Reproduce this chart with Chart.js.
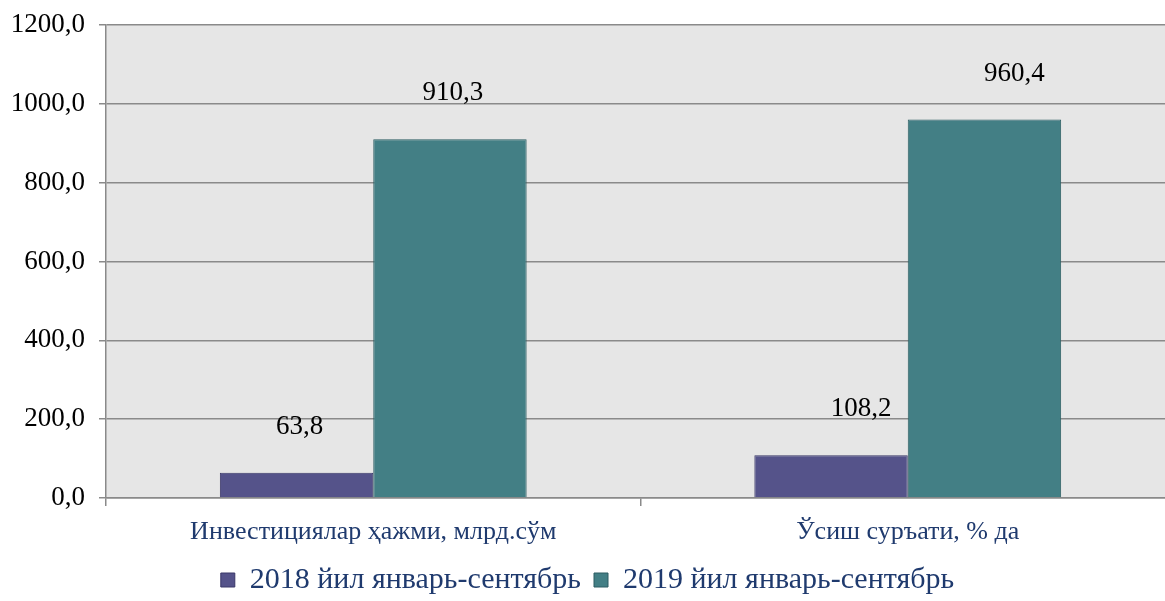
<!DOCTYPE html>
<html>
<head>
<meta charset="utf-8">
<script src="https://cdn.jsdelivr.net/npm/chart.js@4"></script>
<style>
  html, body { margin: 0; padding: 0; background: #fff; overflow: hidden; }
  #wrap { width: 1175px; height: 605px; }
</style>
</head>
<body>
<div id="wrap"><canvas id="mainCanvas" width="1175" height="605"></canvas></div>
<script>
const categories = ["Инвестициялар ҳажми, млрд.сўм", "Ўсиш суръати, % да"];
const series2018 = [63.8, 108.2];
const series2019 = [910.3, 960.4];
const seriesNames = ["2018 йил январь-сентябрь", "2019 йил январь-сентябрь"];

function fmt(v) {
  return v.toFixed(1).replace(".", ",");
}

const serif = "'Liberation Serif', 'Times New Roman', serif";

// gray plot background
const plotBackground = {
  id: "plotBackground",
  beforeDraw(chart) {
    const { ctx, chartArea: a } = chart;
    ctx.save();
    ctx.fillStyle = "#e6e6e6";
    ctx.fillRect(a.left, a.top, a.right - a.left, a.bottom - a.top);
    ctx.restore();
  }
};

// value labels above the bars
const valueLabels = {
  id: "valueLabels",
  afterDatasetsDraw(chart, args, opts) {
    const ctx = chart.ctx;
    ctx.save();
    ctx.font = "27px " + serif;
    ctx.fillStyle = "#000";
    ctx.textAlign = "center";
    ctx.textBaseline = "middle";
    chart.data.datasets.forEach((ds, i) => {
      chart.getDatasetMeta(i).data.forEach((bar, j) => {
        const dx = opts.shiftX[j] || 0;
        ctx.fillText(fmt(ds.data[j]), bar.x + dx, bar.y - opts.gap);
      });
    });
    ctx.restore();
  }
};

new Chart(document.getElementById("mainCanvas").getContext("2d"), {
  type: "bar",
  data: {
    labels: categories,
    datasets: [
      {
        label: seriesNames[0],
        data: series2018,
        backgroundColor: "#55538a",
        borderColor: "#3a3868",
        borderWidth: 1,
      },
      {
        label: seriesNames[1],
        data: series2019,
        backgroundColor: "#437f85",
        borderColor: "#2c5d62",
        borderWidth: 1,
      },
    ],
  },
  options: {
    responsive: false,
    animation: false,
    events: [],
    categoryPercentage: 0.574,
    barPercentage: 1.0,
    layout: { padding: { top: 25, right: 0, left: 0, bottom: 0 } },
    scales: {
      x: {
        grid: {
          offset: true,
          drawOnChartArea: false,
          drawTicks: true,
          tickLength: 8,
          color: "#8a8a8a",
          lineWidth: 1.5,
        },
        border: { color: "#8a8a8a", width: 1.5 },
        ticks: {
          color: "#1f3a6e",
          font: { family: serif, size: 26 },
          padding: 11,
          maxRotation: 0,
        },
        afterFit(scale) { scale.height = 54; },
      },
      y: {
        min: 0,
        max: 1200,
        ticks: {
          stepSize: 200,
          color: "#000",
          font: { family: serif, size: 27 },
          padding: 14,
          callback: v => fmt(v),
        },
        grid: {
          color: "#8a8a8a",
          lineWidth: 1.5,
          tickLength: 7,
        },
        border: { color: "#8a8a8a", width: 1.5 },
        afterFit(scale) {
          scale.width = 106;
          scale.paddingTop = 0;
          scale.paddingBottom = 0;
        },
      },
    },
    plugins: {
      legend: {
        position: "bottom",
        labels: {
          color: "#1f3a6e",
          font: { family: serif, size: 30 },
          boxWidth: 14,
          boxHeight: 14,
          padding: 13,
        },
      },
      tooltip: { enabled: false },
      valueLabels: { gap: 46, shiftX: [3, 30] },
    },
  },
  plugins: [plotBackground, valueLabels],
});
</script>
</body>
</html>
